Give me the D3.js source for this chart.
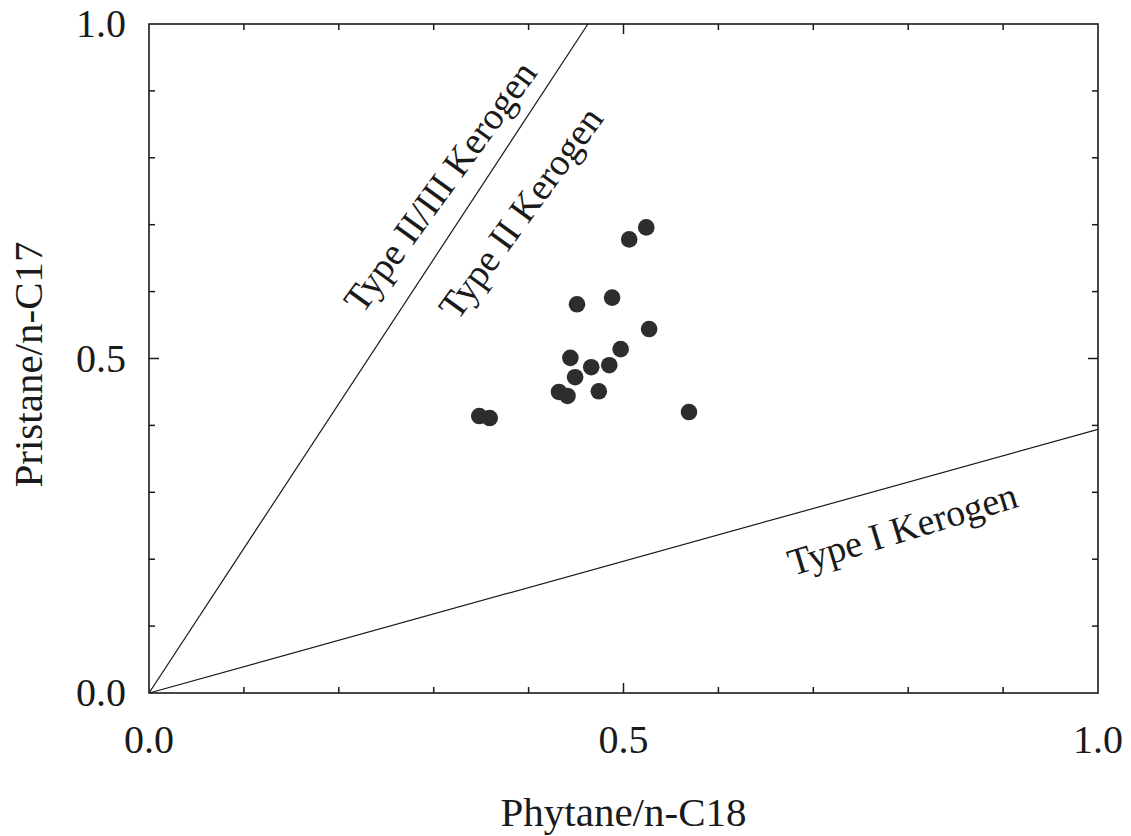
<!DOCTYPE html>
<html><head><meta charset="utf-8">
<script src="https://cdn.jsdelivr.net/npm/d3@7"></script>
<style>
body{margin:0;background:#fff;}
text{font-family:"Liberation Serif","Times New Roman",serif;fill:#1a1a1a;}
</style></head>
<body><svg id="c" width="1131" height="836"></svg>
<script>
const phytane = [0.524,0.506,0.451,0.488,0.527,0.497,0.444,0.466,0.485,0.449,0.432,0.441,0.474,0.348,0.359,0.569];
const pristane = [0.696,0.678,0.581,0.591,0.544,0.514,0.501,0.487,0.490,0.472,0.450,0.444,0.451,0.414,0.411,0.420];
const tickLabels = ["0.0","0.5","1.0"];
const tickValues = [0.0,0.5,1.0];
const minorTicks = [0.1,0.2,0.3,0.4,0.6,0.7,0.8,0.9];
const lineNames = ["Type II/III Kerogen","Type I Kerogen"];
const lineSlopes = [2.162,0.394];
const labelNames = ["Type II/III Kerogen","Type II Kerogen","Type I Kerogen"];
const labelX = [0.225,0.325,0.678];
const labelY = [0.565,0.555,0.175];
const labelAngle = [-54,-54,-17];

const svg = d3.select("#c");
const L=149,R=1098,T=24,B=693;
const x = d3.scaleLinear().domain([0,1]).range([L,R]);
const y = d3.scaleLinear().domain([0,1]).range([B,T]);
const ink="#1a1a1a";

// reference lines
svg.append("clipPath").attr("id","cp").append("rect").attr("x",L).attr("y",T).attr("width",R-L).attr("height",B-T);
const gl = svg.append("g").attr("clip-path","url(#cp)");
lineSlopes.forEach(s=>{
  const xe = Math.min(1, 1/s);
  gl.append("line").attr("x1",x(0)).attr("y1",y(0)).attr("x2",x(xe)).attr("y2",y(s*xe))
    .attr("stroke",ink).attr("stroke-width",1.2);
});

// ticks (inward on all four sides)
const tk = svg.append("g").attr("stroke",ink).attr("stroke-width",1.5);
minorTicks.concat([0.5]).forEach(v=>{
  const len = v===0.5?10:6;
  tk.append("line").attr("x1",x(v)).attr("x2",x(v)).attr("y1",B).attr("y2",B-len);
  tk.append("line").attr("x1",x(v)).attr("x2",x(v)).attr("y1",T).attr("y2",T+len);
  tk.append("line").attr("y1",y(v)).attr("y2",y(v)).attr("x1",L).attr("x2",L+len);
  tk.append("line").attr("y1",y(v)).attr("y2",y(v)).attr("x1",R).attr("x2",R-len);
});
svg.append("rect").attr("x",L).attr("y",T).attr("width",R-L).attr("height",B-T)
  .attr("fill","none").attr("stroke",ink).attr("stroke-width",1.6);

// tick labels
tickValues.forEach((v,i)=>{
  svg.append("text").attr("x",x(v)).attr("y",753).attr("text-anchor","middle")
    .attr("font-size",40).text(tickLabels[i]);
  svg.append("text").attr("x",126).attr("y",y(v)+13).attr("text-anchor","end")
    .attr("font-size",40).text(tickLabels[i]);
});

// axis titles
svg.append("text").attr("x",(L+R)/2).attr("y",826).attr("text-anchor","middle")
  .attr("font-size",41).text("Phytane/n-C18");
svg.append("text").attr("transform",`translate(42,${(T+B)/2+6}) rotate(-90)`).attr("text-anchor","middle")
  .attr("font-size",41).text("Pristane/n-C17");

// annotation labels
labelNames.forEach((n,i)=>{
  svg.append("text").attr("transform",`translate(${x(labelX[i])},${y(labelY[i])}) rotate(${labelAngle[i]})`)
    .attr("font-size",38).text(n);
});

// points
svg.append("g").selectAll("circle").data(phytane.map((p,i)=>[p,pristane[i]])).join("circle")
  .attr("cx",d=>x(d[0])).attr("cy",d=>y(d[1])).attr("r",8.3).attr("fill","#2d2d2d");
</script></body></html>
